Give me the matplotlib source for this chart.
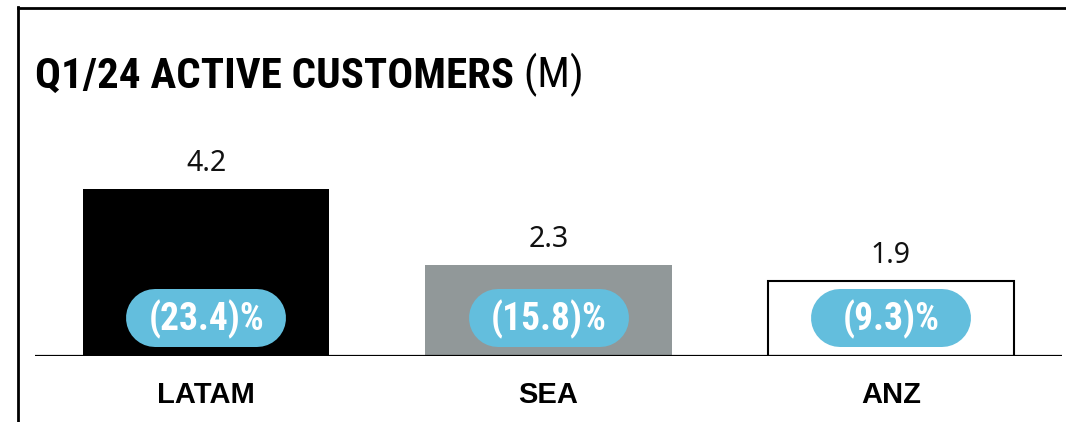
import matplotlib
matplotlib.use("Agg")
import matplotlib.pyplot as plt
from matplotlib.lines import Line2D
from matplotlib.text import Annotation
from matplotlib import font_manager as fm

# ---- data ----
categories = ["LATAM", "SEA", "ANZ"]
values = [4.2, 2.3, 1.9]
value_labels = ["4.2", "2.3", "1.9"]
change_labels = ["(23.4)%", "(15.8)%", "(9.3)%"]
title_main = "Q1/24 ACTIVE CUSTOMERS"
title_unit = " (M)"

# ---- style ----
bar_colors = ["#000000", "#919899", "#FFFFFF"]
edge_colors = ["#000000", "#919899", "#000000"]
edge_widths = [0, 0, 1.5]
pill_color = "#63BEDD"

names = {f.name for f in fm.fontManager.ttflist}
cond = next((n for n in ["Liberation Sans Narrow", "DejaVu Sans Condensed",
                         "Roboto Condensed", "Open Sans Condensed"] if n in names), None)
if cond is None:
    cond, title_size, pill_size = "Liberation Sans", 27, 23
else:
    title_size, pill_size = 31, 27
value_font = "Noto Sans" if "Noto Sans" in names else "DejaVu Sans"

W, H = 1066, 422
fig = plt.figure(figsize=(W / 100, H / 100), dpi=100)
fig.patch.set_facecolor("white")

base_px = 356
top_px = 100
px_per_unit = 39.7
ax = fig.add_axes([35 / W, (H - base_px) / H, (1062 - 35) / W, (base_px - top_px) / H])
ax.set_xlim(-0.5, len(categories) - 0.5)
ax.set_ylim(0, (base_px - top_px) / px_per_unit)
ax.axis("off")

x = list(range(len(categories)))
ax.bar(x, values, width=0.72, color=bar_colors, edgecolor=edge_colors,
       linewidth=edge_widths, zorder=2)
ax.axhline(0, color="black", lw=1.6, zorder=4)

# value labels above bars
for xi, v, lab in zip(x, values, value_labels):
    ax.annotate(lab, (xi, v), xytext=(0, 13), textcoords="offset points",
                ha="center", va="baseline", fontsize=20.5, family=value_font,
                color="#111111")

# category labels
for xi, c in zip(x, categories):
    ax.annotate(c, (xi, 0), xytext=(0, -34), textcoords="offset points",
                ha="center", va="baseline", fontsize=21, family="Liberation Sans",
                fontweight="bold", color="black")

# pills (thick line with round caps)
fig.canvas.draw()
p0 = ax.transData.transform((0, 0))
p1 = ax.transData.transform((1, 1))
px_x = p1[0] - p0[0]
px_y = p1[1] - p0[1]
pill_w_px, pill_h_px, pill_center_px = 160, 58, 38
half = (pill_w_px / 2 - pill_h_px / 2) / px_x
yc = pill_center_px / px_y
for xi, lab in zip(x, change_labels):
    ax.plot([xi - half, xi + half], [yc, yc], color=pill_color,
            lw=pill_h_px * 0.72, solid_capstyle="round", zorder=5)
    ax.text(xi, yc - 1.5 / px_y, lab, ha="center", va="center", color="white",
            fontsize=pill_size, family=cond, fontweight="bold", zorder=6)

# frame lines
fig.add_artist(Line2D([18 / W, 1], [1 - 7.5 / H, 1 - 7.5 / H], color="black",
                      lw=2.0, transform=fig.transFigure))
fig.add_artist(Line2D([18 / W, 18 / W], [0, 1 - 6.5 / H], color="black",
                      lw=2.0, transform=fig.transFigure))

# title
t = fig.text(35 / W, 1 - 88 / H, title_main, ha="left", va="baseline",
             fontsize=title_size, family=cond, fontweight="bold", color="black")
a = Annotation(title_unit, xy=(1, 0), xycoords=t, xytext=(0, 0),
               textcoords="offset points", ha="left", va="bottom",
               fontsize=title_size, family=cond, fontweight="normal", color="black")
fig.add_artist(a)

fig.savefig("out.png", dpi=100, facecolor="white")
